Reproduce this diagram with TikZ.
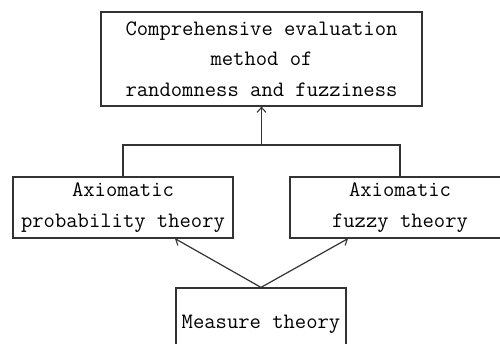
\documentclass[tikz,border=0pt]{standalone}
\usepackage{fontspec}
\usetikzlibrary{arrows.meta}
\begin{document}
\begin{tikzpicture}[x=1pt,y=1pt,
  box/.style={draw=black!80, line width=1.2pt, align=center, inner sep=0pt,
    font=\ttfamily\fontsize{22}{30.5}\selectfont, text=black},
  conn/.style={draw=black!80, line width=1.2pt},
  arr/.style={conn, -{Straight Barb[length=5pt,width=9pt,line width=1.1pt]}}]
\clip (0,0) rectangle (500,-343);
\node[box, minimum width=321, minimum height=94] (T) at (261.5,-59)
  {Comprehensive evaluation\\method of\\randomness and fuzziness};
\node[box, minimum width=220, minimum height=61] (L) at (123,-207.5)
  {Axiomatic\\probability theory};
\node[box, minimum width=220, minimum height=61] (R) at (400,-207.5)
  {Axiomatic\\fuzzy theory};
\node[box, minimum width=170, minimum height=72] (M) at (261,-324)
  {Measure theory};
\coordinate (J) at (261.5,-145);
\draw[conn] (L.north) |- (J) -| (R.north);
\draw[arr] (J) -- (T.south);
\draw[arr] (M.north) -- ([xshift=52pt]L.south);
\draw[arr] (M.north) -- ([xshift=-52pt]R.south);
\end{tikzpicture}
\end{document}
